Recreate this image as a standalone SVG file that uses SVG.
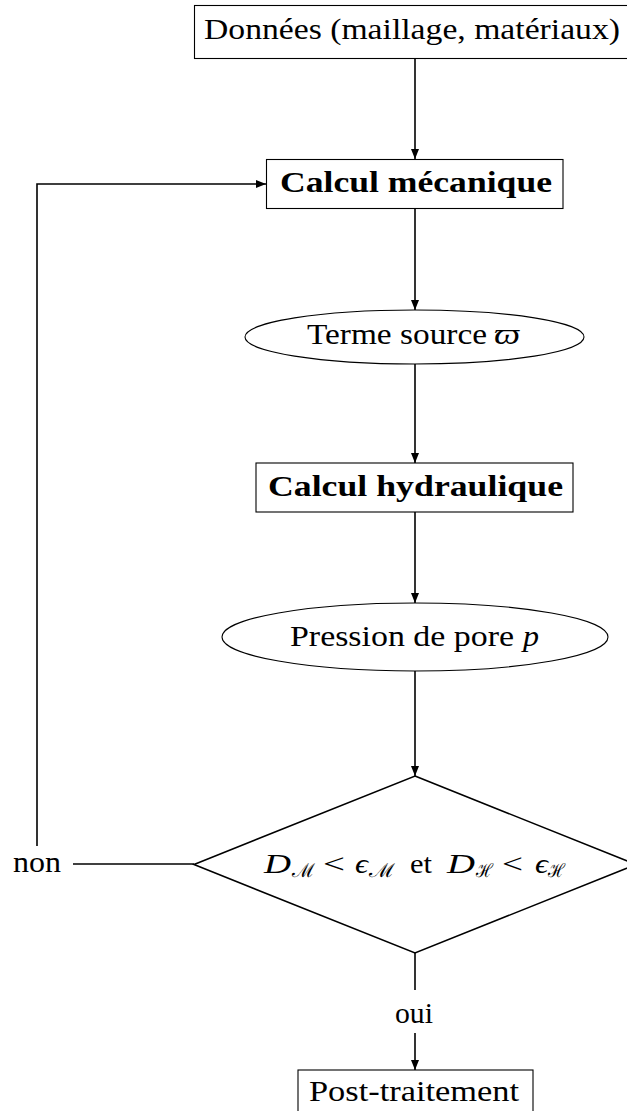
<svg xmlns="http://www.w3.org/2000/svg" width="627" height="1111" viewBox="0 0 627 1111">
<style>
  .box { fill: #fff; stroke: #000; stroke-width: 1.1; }
  .shape { fill: #fff; stroke: #000; stroke-width: 1.6; }
  .conn { fill: none; stroke: #000; stroke-width: 1.6; }
  .t { font-family: "Liberation Serif", "DejaVu Serif", serif; font-size: 29px; fill: #000; }
  .m { font-family: "Liberation Serif", "DejaVu Serif", serif; font-size: 27px; font-weight: normal; fill: #000; }
  .b { font-weight: bold; }
  .i { font-style: italic; }
  .s { font-size: 19px; }
</style>
<defs>
  <marker id="arr" markerUnits="userSpaceOnUse" markerWidth="10" markerHeight="8" refX="10" refY="4" orient="auto">
    <path d="M0,0 L10,4 L0,8 z" fill="#000"/>
  </marker>
</defs>
<g id="connectors">
  <line class="conn" x1="415" y1="58.5" x2="415" y2="159" marker-end="url(#arr)"/>
  <line class="conn" x1="415" y1="209" x2="415" y2="310" marker-end="url(#arr)"/>
  <line class="conn" x1="415" y1="364" x2="415" y2="463" marker-end="url(#arr)"/>
  <line class="conn" x1="415" y1="512" x2="415" y2="603" marker-end="url(#arr)"/>
  <line class="conn" x1="415" y1="671" x2="415" y2="776" marker-end="url(#arr)"/>
  <line class="conn" x1="73" y1="864" x2="194" y2="864"/>
  <path class="conn" d="M37,846 V184 H266" marker-end="url(#arr)"/>
  <line class="conn" x1="415" y1="953" x2="415" y2="990"/>
  <line class="conn" x1="415" y1="1033" x2="415" y2="1070" marker-end="url(#arr)"/>
</g>
<g id="donnees">
  <rect class="box" x="194.5" y="5.5" width="441" height="53"/>
  <text class="t" x="204" y="39" textLength="416" lengthAdjust="spacingAndGlyphs">Données (maillage, matériaux)</text>
</g>
<g id="calcul-mecanique">
  <rect class="box" x="266.5" y="159.5" width="296.5" height="49"/>
  <text class="t b" x="280" y="192" textLength="272" lengthAdjust="spacingAndGlyphs">Calcul mécanique</text>
</g>
<g id="terme-source">
  <ellipse class="box" cx="414.5" cy="337" rx="169.5" ry="27"/>
  <text class="t" x="307" y="344" textLength="180" lengthAdjust="spacingAndGlyphs">Terme source</text>
  <text class="t i" x="494" y="344" textLength="26" lengthAdjust="spacingAndGlyphs">ϖ</text>
</g>
<g id="calcul-hydraulique">
  <rect class="box" x="256" y="463" width="317" height="49"/>
  <text class="t b" x="268" y="496" textLength="295" lengthAdjust="spacingAndGlyphs">Calcul hydraulique</text>
</g>
<g id="pression">
  <ellipse class="box" cx="415" cy="637" rx="193" ry="34"/>
  <text class="t" x="290" y="646" textLength="224" lengthAdjust="spacingAndGlyphs">Pression de pore</text>
  <text class="t i" x="523" y="646" textLength="16" lengthAdjust="spacingAndGlyphs">p</text>
</g>
<g id="test">
  <polygon class="shape" points="415,776 636,864.5 415,953 194,864.5"/>
  <text class="m i" x="264" y="873" textLength="27" lengthAdjust="spacingAndGlyphs">D</text>
  <text class="m s" x="292" y="877" textLength="23" lengthAdjust="spacingAndGlyphs">ℳ</text>
  <text class="m" x="323" y="873" textLength="22" lengthAdjust="spacingAndGlyphs">&lt;</text>
  <text class="m i" x="355" y="873" textLength="13" lengthAdjust="spacingAndGlyphs">ϵ</text>
  <text class="m s" x="369" y="877" textLength="26" lengthAdjust="spacingAndGlyphs">ℳ</text>
  <text class="m" x="410" y="873" textLength="22" lengthAdjust="spacingAndGlyphs">et</text>
  <text class="m i" x="447" y="873" textLength="28" lengthAdjust="spacingAndGlyphs">D</text>
  <text class="m s" x="476" y="877" textLength="17" lengthAdjust="spacingAndGlyphs">ℋ</text>
  <text class="m" x="502" y="873" textLength="21" lengthAdjust="spacingAndGlyphs">&lt;</text>
  <text class="m i" x="535" y="873" textLength="13" lengthAdjust="spacingAndGlyphs">ϵ</text>
  <text class="m s" x="548" y="877" textLength="17" lengthAdjust="spacingAndGlyphs">ℋ</text>
</g>
<g id="label-non">
  <text class="t" x="13" y="872" textLength="48" lengthAdjust="spacingAndGlyphs">non</text>
</g>
<g id="label-oui">
  <text class="t" x="395" y="1023" textLength="38" lengthAdjust="spacingAndGlyphs">oui</text>
</g>
<g id="post">
  <rect class="box" x="298" y="1070" width="235" height="45"/>
  <text class="t" x="309" y="1101" textLength="210" lengthAdjust="spacingAndGlyphs">Post-traitement</text>
</g>
</svg>
